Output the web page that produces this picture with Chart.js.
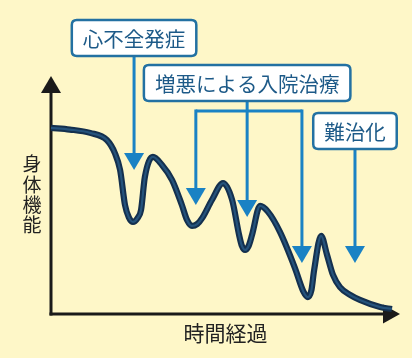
<!DOCTYPE html>
<html><head><meta charset="utf-8">
<script src="https://cdn.jsdelivr.net/npm/chart.js@4.4.1/dist/chart.umd.min.js"></script>
<style>
html,body{margin:0;padding:0;background:#fef7c8;}
canvas{display:block;}
</style></head>
<body>
<canvas id="c" width="412" height="358"></canvas>
<script>
// ---- data ----
const timeValues = [0,5.4,11.2,16.0,18.3,19.8,21.2,22.3,23.5,24.8,25.8,26.9,29.2,31.8,34.7,37.5,39.0,40.4,41.9,43.4,46.1,49.3,51.9,53.9,54.7,55.6,56.6,57.6,59.9,62.2,65.6,69.9,72.3,73.6,74.6,75.4,77.4,79.1,80.8,82.8,85.7,88.5,94.3,97.7];
const functionValues = [78.2,77.5,76.1,73.1,67.6,60.5,45.8,40.6,38.7,40.3,43.7,57.6,66.0,62.6,56.3,45.8,39.4,37.0,37.8,40.5,47.9,55.0,47.9,33.2,28.6,26.9,28.5,33.2,45.4,42.9,34.5,19.3,9.5,7.1,9.9,18.5,32.8,24.8,16.4,11.3,8.0,5.9,2.9,2.1];
const eventLabels = ['心不全発症','増悪による入院治療','難治化'];
const eventTimes = [[23.8],[41.5,56.2,71.9],[87.1]];
const eventArrowTips = [[60.5],[45.8,40.8,21.4],[21.4]];
const yTitle = '身体機能';
const xTitle = '時間経過';

const points = timeValues.map((t,i)=>({x:t,y:functionValues[i]}));
const FONT = '"Noto Sans CJK JP","Noto Sans",sans-serif';
const boxTops = [20,65,113];
const BLUE = '#1a82c4', BOXC = '#2371a2', TXT = '#1d5a88';

function roundRect(ctx,x,y,w,h,r){
  ctx.beginPath();
  ctx.moveTo(x+r,y);ctx.lineTo(x+w-r,y);ctx.quadraticCurveTo(x+w,y,x+w,y+r);
  ctx.lineTo(x+w,y+h-r);ctx.quadraticCurveTo(x+w,y+h,x+w-r,y+h);
  ctx.lineTo(x+r,y+h);ctx.quadraticCurveTo(x,y+h,x,y+h-r);
  ctx.lineTo(x,y+r);ctx.quadraticCurveTo(x,y,x+r,y);ctx.closePath();
}

const deco = {
  id:'deco',
  beforeDraw(chart){
    const ctx=chart.ctx; ctx.save();
    ctx.fillStyle='#fef7c8'; ctx.fillRect(0,0,chart.width,chart.height);
    ctx.restore();
  },
  beforeDatasetsDraw(chart){
    const ctx=chart.ctx, xs=chart.scales.x, ys=chart.scales.y;
    const x0=xs.getPixelForValue(0), y0=ys.getPixelForValue(0);
    const xEnd=xs.getPixelForValue(100), yEnd=ys.getPixelForValue(100);
    ctx.save();
    // axes
    ctx.strokeStyle='#1a1a1a'; ctx.fillStyle='#1a1a1a'; ctx.lineWidth=3;
    ctx.beginPath(); ctx.moveTo(x0,y0+1.5); ctx.lineTo(x0,yEnd+16); ctx.stroke();
    ctx.beginPath(); ctx.moveTo(x0-1.5,y0); ctx.lineTo(xEnd-16,y0); ctx.stroke();
    ctx.beginPath(); ctx.moveTo(x0,yEnd); ctx.lineTo(x0-10,yEnd+17); ctx.lineTo(x0+10,yEnd+17); ctx.closePath(); ctx.fill();
    ctx.beginPath(); ctx.moveTo(xEnd,y0); ctx.lineTo(xEnd-17,y0-9.5); ctx.lineTo(xEnd-17,y0+9.5); ctx.closePath(); ctx.fill();
    // axis titles
    ctx.fillStyle='#222'; ctx.font='19px '+FONT; ctx.textAlign='center'; ctx.textBaseline='middle';
    [...yTitle].forEach((ch,i)=>ctx.fillText(ch,32,164+i*20.4));
    ctx.font='21px '+FONT;
    ctx.fillText(xTitle,(x0+xEnd)/2,333);
    // event boxes and arrows
    eventLabels.forEach((lab,g)=>{
      const times=eventTimes[g], tips=eventArrowTips[g];
      const mid = times.length===3 ? times[1] : times[0];
      const cx = xs.getPixelForValue(mid);
      ctx.font='20.5px '+FONT;
      const tw = ctx.measureText(lab).width;
      const bw = tw+22, bh=36, bx=cx-bw/2, by=boxTops[g];
      // arrows
      ctx.strokeStyle=BLUE; ctx.fillStyle=BLUE; ctx.lineWidth=3;
      const bracketY = by+bh+10;
      if(times.length>1){
        ctx.beginPath();
        ctx.moveTo(xs.getPixelForValue(times[0]),bracketY);
        ctx.lineTo(xs.getPixelForValue(times[times.length-1]),bracketY);
        ctx.stroke();
      }
      times.forEach((t,i)=>{
        const ax=xs.getPixelForValue(t), tip=ys.getPixelForValue(tips[i]);
        const startY = (times.length>1 && i!==1) ? bracketY-1.5 : by+bh;
        ctx.beginPath(); ctx.moveTo(ax,startY); ctx.lineTo(ax,tip-15); ctx.stroke();
        ctx.beginPath(); ctx.moveTo(ax-10,tip-17); ctx.lineTo(ax+10,tip-17); ctx.lineTo(ax,tip); ctx.closePath(); ctx.fill();
      });
      // box
      roundRect(ctx,bx,by,bw,bh,5);
      ctx.fillStyle='#ffffff'; ctx.fill();
      ctx.strokeStyle=BOXC; ctx.lineWidth=2.5; ctx.stroke();
      ctx.fillStyle=TXT; ctx.textAlign='center'; ctx.textBaseline='middle';
      ctx.fillText(lab,cx,by+bh/2+1);
    });
    ctx.restore();
  }
};

new Chart(document.getElementById('c'),{
  type:'line',
  data:{datasets:[
    {data:points,borderColor:'#25537c',borderWidth:2.2,pointRadius:0,cubicInterpolationMode:'monotone',clip:false,order:0},
    {data:points,borderColor:'#14304e',borderWidth:6.2,pointRadius:0,cubicInterpolationMode:'monotone',clip:false,order:1}
  ]},
  options:{
    responsive:false, animation:false, devicePixelRatio:1,
    layout:{padding:{left:51,right:12,top:76,bottom:44}},
    plugins:{legend:{display:false},tooltip:{enabled:false}},
    scales:{
      x:{type:'linear',min:0,max:100,display:false},
      y:{type:'linear',min:0,max:100,display:false}
    },
    events:[]
  },
  plugins:[deco]
});
</script>
</body></html>
